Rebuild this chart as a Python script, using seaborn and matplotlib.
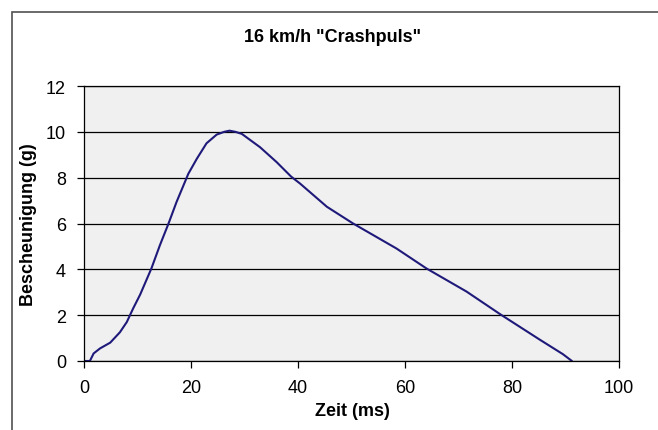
import pandas as pd
import numpy as np
import seaborn as sns
import matplotlib.pyplot as plt
from matplotlib.patches import Rectangle

# Crashpuls values
zeit_ms = [0, 1.1, 1.8, 3.0, 4.9, 6.7, 8.0, 9.2, 10.5, 12.6, 14.2, 15.8, 17.3,
           19.5, 21.1, 22.9, 24.8, 26.2, 27.2, 28.3, 29.5, 32.9, 36.0, 38.7,
           40.4, 45.4, 50.3, 58.4, 64.0, 71.5, 77.8, 85.2, 89.5, 91.2]
beschl_g = [0, 0, 0.33, 0.55, 0.8, 1.25, 1.7, 2.3, 2.9, 4.04, 5.06, 6.0, 6.94,
            8.17, 8.83, 9.5, 9.88, 10.0, 10.05, 10.0, 9.91, 9.33, 8.68, 8.05,
            7.74, 6.73, 6.0, 4.91, 4.04, 3.03, 2.04, 0.93, 0.3, 0]
x_ticks = [0, 20, 40, 60, 80, 100]
y_ticks = [0, 2, 4, 6, 8, 10, 12]

df = pd.DataFrame({'Zeit': zeit_ms, 'g': beschl_g})

sns.set_style('white')
plt.rcParams['font.family'] = ['Liberation Sans', 'DejaVu Sans']
plt.rcParams['text.color'] = 'black'
plt.rcParams['axes.labelcolor'] = 'black'
plt.rcParams['xtick.color'] = 'black'
plt.rcParams['ytick.color'] = 'black'

fig = plt.figure(figsize=(6.58, 4.31), dpi=100)
ax = fig.add_axes([84/658, 1 - 362/431, (619-84)/658, (362-87)/431])
ax.set_facecolor('#F0F0F0')

sns.lineplot(data=df, x='Zeit', y='g', color='#1F1A7A', linewidth=1.5, ax=ax, sort=False)

ax.set_xlim(0, 100)
ax.set_ylim(0, 12)
ax.set_xticks(x_ticks)
ax.set_yticks(y_ticks)
ax.yaxis.grid(True, color='black', linewidth=0.9)
ax.set_axisbelow(True)
for s in ax.spines.values():
    s.set_color('black')
    s.set_linewidth(0.9)
ax.tick_params(axis='both', direction='out', length=5, width=0.9, color='black',
               labelsize=13, pad=8, left=True, bottom=True)

ax.set_xlabel('Zeit (ms)', fontsize=13, fontweight='bold')
ax.set_ylabel('Bescheunigung (g)', fontsize=13, fontweight='bold')
ax.xaxis.set_label_coords((352 - 84) / 535, -(403 - 362) / 275)
ax.yaxis.set_label_coords(-(84 - 37) / 535, 0.5)
fig.text(333/658, 1 - 38/431, '16 km/h "Crashpuls"', ha='center', va='center',
         fontsize=13, fontweight='bold')

# chart frame
fig.patches.append(Rectangle((12/658, -0.1), 1.2, 1 - 13/431 + 0.1,
                             transform=fig.transFigure, fill=False,
                             edgecolor='#505050', linewidth=1.2))

plt.savefig('out.png', dpi=100)
